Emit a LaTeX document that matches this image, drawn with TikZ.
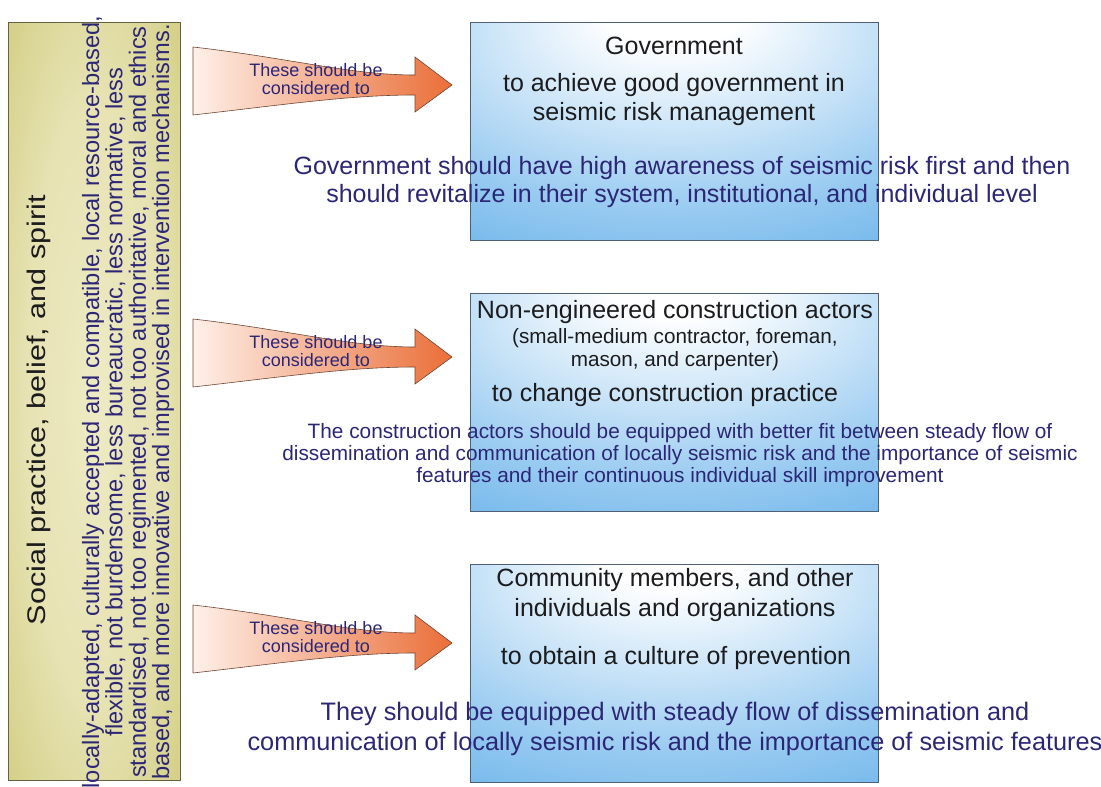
\documentclass[tikz,border=0pt]{standalone}
\usepackage{fontspec}
\setmainfont{Liberation Sans}
\newfontfamily\widefont[FakeStretch=1.2]{Liberation Sans}
\usetikzlibrary{positioning}

\definecolor{skyblue}{RGB}{92,172,232}
\definecolor{boxrim}{RGB}{80,96,116}
\definecolor{panelolive}{RGB}{200,196,108}
\definecolor{panelcream}{RGB}{238,234,196}
\definecolor{panelrim}{RGB}{100,98,66}
\definecolor{inkblue}{RGB}{44,38,118}
\definecolor{darkink}{RGB}{28,28,30}
\definecolor{arroworange}{RGB}{234,110,56}
\definecolor{arrowpeach}{RGB}{254,240,232}
\definecolor{arrowrim}{RGB}{110,70,52}

% white glow near the top of each box
\pgfdeclareradialshading{boxglow}{\pgfpoint{0bp}{30bp}}{%
  color(0bp)=(white); color(8bp)=(white); color(38bp)=(skyblue!65);
  color(58bp)=(skyblue); color(100bp)=(skyblue)}
\pgfdeclareradialshading{panelglow}{\pgfpoint{0bp}{0bp}}{%
  color(0bp)=(panelcream); color(20bp)=(panelcream!80!panelolive);
  color(45bp)=(panelolive); color(100bp)=(panelolive)}

\tikzset{
  goalbox/.style={draw=boxrim, line width=0.8pt, shading=boxglow,
    minimum width=408pt, minimum height=218pt, inner sep=0pt},
  headtext/.style={text=darkink, align=center, inner sep=0pt,
    font=\fontsize{25}{29}\selectfont},
  inktext/.style={text=inkblue, align=center, inner sep=0pt,
    font=\fontsize{25}{28}\selectfont},
  arrowtext/.style={text=inkblue, align=center, inner sep=0pt,
    font=\fontsize{18}{18}\selectfont}
}

\begin{document}
\begin{tikzpicture}[x=1pt, y=-1pt]
  \useasboundingbox (0,0) rectangle (1101,787);
  \clip (0,0) rectangle (1101,787);

  % Left column
  \node[draw=panelrim, line width=1pt, shading=panelglow,
        minimum width=172pt, minimum height=758pt] (social) at (94,401) {};
  \node[rotate=90, text=darkink, inner sep=0pt,
        font=\widefont\fontsize{25.5}{28}\selectfont] (spirit) at (39,410)
        {Social practice, belief, and spirit};
  \node[rotate=90, text=inkblue, align=center, inner sep=0pt,
        font=\fontsize{23.6}{23.3}\selectfont] (traits) at (128,402)
        {locally-adapted, culturally accepted and compatible, local resource-based,\\
         flexible, not burdensome, less bureaucratic, less normative, less\\
         standardised, not too regimented, not too authoritative, moral and ethics\\
         based, and more innovative and improvised in intervention mechanisms.};

  % Arrows from the column to the boxes
  \foreach \dy/\name in {0/one, 272/two, 558/three} {
    \begin{scope}[shift={(0,\dy)}]
      \draw[arrowrim, line width=0.6pt, left color=arrowpeach, right color=arroworange]
        (193,47) .. controls (290,58) and (350,75) .. (415,75) -- (415,57)
        -- (452,85) -- (415,112) -- (415,95)
        .. controls (350,95) and (290,104) .. (193,115) -- cycle;
      \node[arrowtext] (arrow\name) at (316,79) {These should be\\considered to};
    \end{scope}
  }

  % Government
  \node[goalbox] (gov) at (674,131) {};
  \node[headtext] (govtitle) at (674,46) {Government};
  \node[headtext] (govaim) at (674,100) {to achieve good government in\\seismic risk management};
  \node[inktext] (govnote) at (682,182)
    {Government should have high awareness of seismic risk first and then\\
     should revitalize in their system, institutional, and individual level};

  % Non-engineered construction actors
  \node[goalbox] (actors) at (674,402) {};
  \node[headtext] (actortitle) at (675,312) {Non-engineered construction actors};
  \node[headtext, font=\fontsize{20.7}{23}\selectfont] (actorlist) at (675,350)
    {(small-medium contractor, foreman,\\mason, and carpenter)};
  \node[headtext] (actoraim) at (665,395) {to change construction practice};
  \node[inktext, font=\fontsize{20.8}{22}\selectfont] (actornote) at (680,455)
    {The construction actors should be equipped with better fit between steady flow of\\
     dissemination and communication of locally seismic risk and the importance of seismic\\
     features and their continuous individual skill improvement};

  % Community members
  \node[goalbox] (comm) at (674,673) {};
  \node[headtext, font=\fontsize{25}{30}\selectfont] (commtitle) at (675,595)
    {Community members, and other\\individuals and organizations};
  \node[headtext] (commaim) at (676,658) {to obtain a culture of prevention};
  \node[inktext, font=\fontsize{25.3}{30}\selectfont] (commnote) at (675,729)
    {They should be equipped with steady flow of dissemination and\\
     communication of locally seismic risk and the importance of seismic features};
\end{tikzpicture}
\end{document}
